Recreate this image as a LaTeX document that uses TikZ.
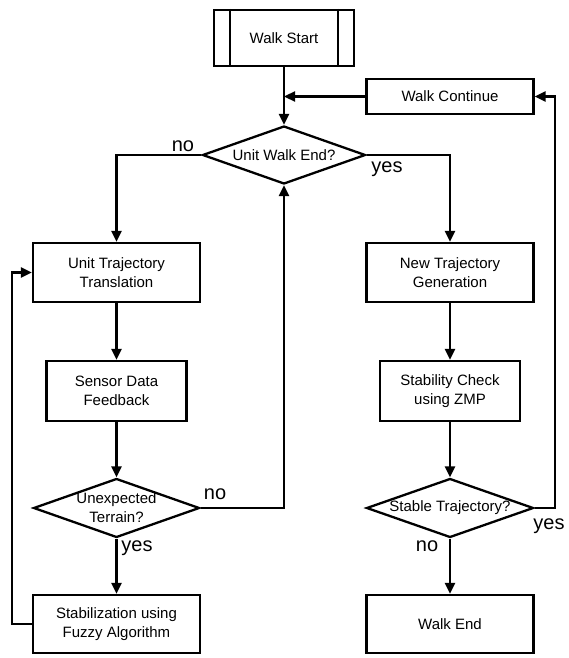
\documentclass[tikz,border=0pt]{standalone}
\usepackage{fontspec}
\setmainfont{Liberation Sans}
\usetikzlibrary{shapes.geometric,arrows.meta}
\begin{document}
\begin{tikzpicture}[x=1pt,y=-1pt,
  every path/.style={line width=2.3pt},
  box/.style={draw,rectangle,line width=2.3pt,align=center,inner sep=0pt,
    font=\fontsize{15}{19.5}\selectfont},
  dia/.style={draw,diamond,line width=2.3pt,inner sep=0pt},
  diatext/.style={font=\fontsize{15}{19}\selectfont,align=center,inner sep=0pt},
  lbl/.style={font=\fontsize{20}{22}\selectfont,inner sep=0pt},
  arr/.style={-{Triangle[length=11pt,width=10pt]},line width=2.3pt}]
\useasboundingbox (0,0) rectangle (568,658);
% nodes
\node[box,minimum width=140,minimum height=56] (start) at (284,38) {Walk Start};
\node[box,minimum width=167,minimum height=35] (cont) at (450,96.5) {Walk Continue};
\node[dia,minimum width=163,minimum height=58,
  label={[diatext]center:Unit Walk End?}] (d1) at (284,155) {};
\node[box,minimum width=167,minimum height=59] (utt) at (116.5,272.5) {Unit Trajectory\\Translation};
\node[box,minimum width=167,minimum height=59] (ntg) at (450,272.5) {New Trajectory\\Generation};
\node[box,minimum width=140,minimum height=60] (sdf) at (116.5,391) {Sensor Data\\Feedback};
\node[box,minimum width=140,minimum height=60] (scz) at (450,391) {Stability Check\\using ZMP};
\node[dia,minimum width=166,minimum height=59,
  label={[diatext]center:Unexpected\\Terrain?}] (d2) at (116.5,508) {};
\node[dia,minimum width=167,minimum height=59,
  label={[diatext]center:Stable Trajectory?}] (d3) at (450,508) {};
\node[box,minimum width=167,minimum height=58] (stab) at (116.5,624) {Stabilization using\\Fuzzy Algorithm};
\node[box,minimum width=167,minimum height=58] (wend) at (450,624) {Walk End};
% inner bars of start
\draw ([xshift=17pt]start.north west) -- ([xshift=17pt]start.south west);
\draw ([xshift=-17pt]start.north east) -- ([xshift=-17pt]start.south east);
% corner coordinates
\coordinate (c1) at (cont.west -| start.south);
\coordinate (c2) at (d1.west -| utt.north);
\coordinate (c3) at (d1.east -| ntg.north);
\coordinate (c4) at (d2.east -| d1.south);
\coordinate (c5) at (12,624);
\coordinate (c6) at (12,272.5);
\coordinate (c7) at (555,508);
\coordinate (c8) at (555,96.5);
% connectors
\draw[arr] (start.south) -- (d1.north);
\draw[arr] (cont.west) -- (c1);
\draw[arr] (d1.west) -- (c2) -- (utt.north);
\draw[arr] (d1.east) -- (c3) -- (ntg.north);
\draw[arr] (utt.south) -- (sdf.north);
\draw[arr] (sdf.south) -- (d2.north);
\draw[arr] (d2.east) -- (c4) -- (d1.south);
\draw[arr] (d2.south) -- (stab.north);
\draw[arr] (stab.west) -- (c5) -- (c6) -- (utt.west);
\draw[arr] (ntg.south) -- (scz.north);
\draw[arr] (scz.south) -- (d3.north);
\draw[arr] (d3.south) -- (wend.north);
\draw[arr] (d3.east) -- (c7) -- (c8) -- (cont.east);
% labels
\node[lbl] (l1) at (183,146) {no};
\node[lbl] (l2) at (387,169) {yes};
\node[lbl] (l3) at (215,494) {no};
\node[lbl] (l4) at (137,548) {yes};
\node[lbl] (l5) at (427,546) {no};
\node[lbl] (l6) at (549,526) {yes};
\end{tikzpicture}
\end{document}
